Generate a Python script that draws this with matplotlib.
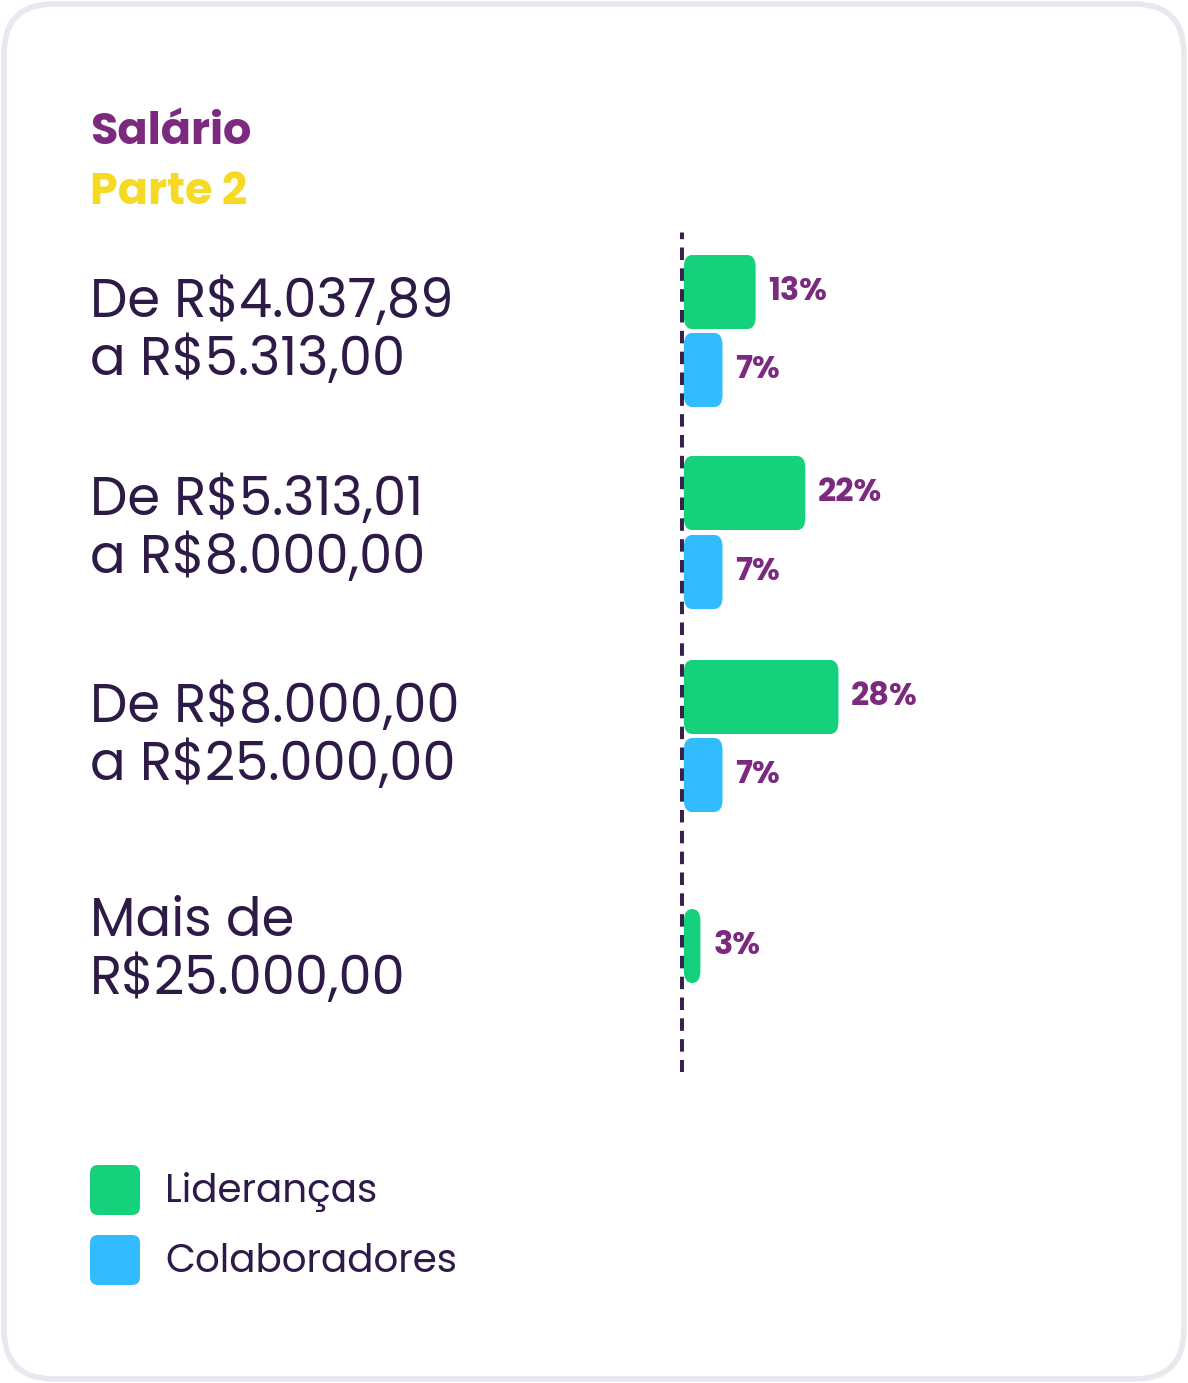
import matplotlib.pyplot as plt
from matplotlib.patches import FancyBboxPatch

# data
categories = ["De R$4.037,89\na R$5.313,00", "De R$5.313,01\na R$8.000,00",
              "De R$8.000,00\na R$25.000,00", "Mais de\nR$25.000,00"]
liderancas = [13, 22, 28, 3]
colaboradores = [7, 7, 7, None]
series_names = ["Lideranças", "Colaboradores"]

GREEN = "#16d17b"
BLUE = "#33bbff"
PURPLE = "#7b2a7f"
DARK = "#2e1a47"
FONT = ["Poppins", "Open Sans", "DejaVu Sans"]

W, H = 1188, 1383
fig = plt.figure(figsize=(W / 100, H / 100), dpi=100)
fig.patch.set_facecolor("white")

# rounded card border
bg = fig.add_axes([0, 0, 1, 1])
bg.set_xlim(0, W)
bg.set_ylim(H, 0)
bg.axis("off")
bg.add_patch(FancyBboxPatch((4, 4), W - 8, H - 8, boxstyle="round,pad=0,rounding_size=50",
                            fc="white", ec="#ece6ee", lw=4))

bg.text(90, 134, "Salário", color=PURPLE, fontsize=32, fontweight="bold", va="center", family=FONT)
bg.text(90, 194, "Parte 2", color="#f5d922", fontsize=32, fontweight="bold", va="center", family=FONT)

# bar axes: from the dotted line to the right
top, bottom = 232, 1072
ax = fig.add_axes([680 / W, 1 - bottom / H, (W - 680) / W, (bottom - top) / H])
ax.set_xlim(0, 92)
ax.set_ylim(bottom - top, 0)
ax.axis("off")
ax.axvline(0, color="#3a1f4a", lw=5, ls=(0, (1.8, 1.2)))

green_y = [60, 261, 465, 714]
blue_y = [138, 340, 543, None]
label_y = [333, 531, 738, 952]
bar_h = 74

for i, cat in enumerate(categories):
    bg.text(90, label_y[i], cat, color=DARK, fontsize=38, va="center", family=FONT, linespacing=1.1)
    for val, yc, col in ((liderancas[i], green_y[i], GREEN), (colaboradores[i], blue_y[i], BLUE)):
        if val is None:
            continue
        bars = ax.barh(yc, val, left=0.7, height=bar_h, color="none")
        b = bars[0]
        ax.add_patch(FancyBboxPatch((b.get_x(), b.get_y()), b.get_width(), b.get_height(),
                                    boxstyle="round,pad=0,rounding_size=1.5",
                                    mutation_aspect=8, fc=col, ec="none"))
        ax.text(b.get_x() + b.get_width() + 2.3, yc, f"{val}%", color=PURPLE, fontsize=23,
                fontweight="bold", va="center", family=FONT)

# legend
for j, (name, col) in enumerate(zip(series_names, [GREEN, BLUE])):
    y0 = 1165 + j * 70
    bg.add_patch(FancyBboxPatch((90, y0), 50, 50, boxstyle="round,pad=0,rounding_size=8",
                                fc=col, ec="none"))
    bg.text(165, y0 + 27, name, color=DARK, fontsize=28, va="center", family=FONT)

fig.savefig("out.png", dpi=100)
